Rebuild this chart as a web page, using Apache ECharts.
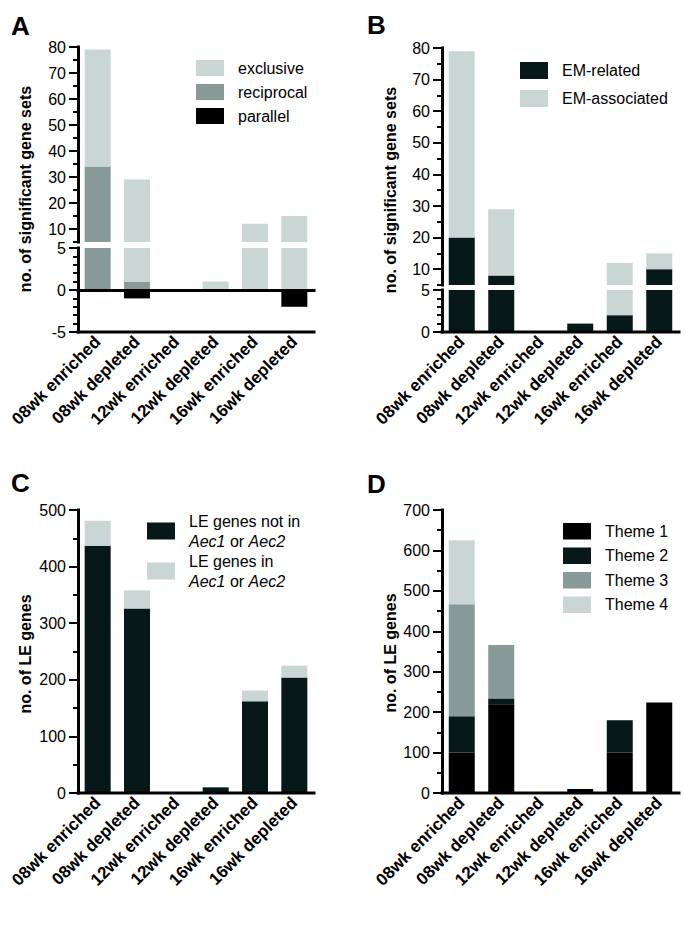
<!DOCTYPE html>
<html>
<head>
<meta charset="utf-8">
<script src="https://cdn.jsdelivr.net/npm/echarts@6/dist/echarts.min.js"></script>
<style>
html,body{margin:0;padding:0;background:#fff;}
#chart{width:685px;height:931px;}
</style>
</head>
<body>
<div id="chart"></div>
<script>
// ---------------- data ----------------
const categories = ['08wk enriched', '08wk depleted', '12wk enriched', '12wk depleted', '16wk enriched', '16wk depleted'];

// Panel A
const exclusive  = [45, 28, 0, 1, 12, 15];
const reciprocal = [34, 1, 0, 0, 0, 0];
const parallel   = [0, -1, 0, 0, 0, -2];

// Panel B
const emRelated    = [20, 8, 0, 1, 2, 10];
const emAssociated = [59, 21, 0, 0, 10, 5];

// Panel C
const leNotInAec = [437, 326, 0, 10, 162, 204];
const leInAec    = [44, 32, 0, 0, 19, 21];

// Panel D
const theme1 = [100, 218, 0, 10, 100, 224];
const theme2 = [90, 16, 0, 0, 80, 0];
const theme3 = [277, 132, 0, 0, 0, 0];
const theme4 = [158, 0, 0, 0, 0, 0];

// tick labels of the upper (broken) segments
const upperMajorTicks = [10, 20, 30, 40, 50, 60, 70, 80];

// ---------------- style ----------------
const FONT = '"Liberation Sans", Arial, Helvetica, sans-serif';
const LIGHT = '#cad6d4';
const MID = '#889a98';
const DARK = '#071818';
const BLACK = '#000000';

const chart = echarts.init(document.getElementById('chart'), null, {renderer: 'svg', width: 685, height: 931});

const rectAUp = {left: 78,  top: 47,  width: 236, height: 195};
const rectALo = {left: 78,  top: 248, width: 236, height: 84};
const rectBUp = {left: 442, top: 48,  width: 237, height: 237};
const rectBLo = {left: 442, top: 290, width: 237, height: 42};
const rectC   = {left: 78,  top: 510, width: 236, height: 283};
const rectD   = {left: 442, top: 510, width: 237, height: 283};

const grids = [
  rectAUp, // 0 A upper bars
  rectALo, // 1 A lower bars (+ zero line)
  rectBUp, // 2 B upper bars
  rectBLo, // 3 B lower bars
  rectC,   // 4 C bars
  rectD,   // 5 D bars
  rectAUp, // 6 A upper minor ticks overlay
  rectBUp, // 7 B upper minor ticks overlay
  rectALo, // 8 A category labels
  rectBLo, // 9 B category labels
  rectC,   // 10 C category labels
  rectD    // 11 D category labels
].map(g => Object.assign({containLabel: false}, g));

const AXIS_LINE = {color: '#000', width: 3, cap: 'square'};
const XLABEL = {show: true, interval: 0, rotate: 45, margin: 7, color: '#000', fontFamily: FONT, fontSize: 17, fontWeight: 'bold'};

function hiddenX(gi) {
  return {type: 'category', gridIndex: gi, data: categories, show: false};
}
function zeroLineX(gi) {
  return {
    type: 'category', gridIndex: gi, data: categories, position: 'bottom', z: 10,
    axisLine: {show: true, onZero: true, lineStyle: AXIS_LINE},
    axisTick: {show: false}, axisLabel: {show: false}, splitLine: {show: false}
  };
}
function labelsX(gi) {
  return {
    type: 'category', gridIndex: gi, data: categories, position: 'bottom',
    axisLine: {show: false},
    axisTick: {show: false}, splitLine: {show: false},
    axisLabel: XLABEL
  };
}
const LABEL = {show: true, margin: 12, color: '#000', fontFamily: FONT, fontSize: 16};
const MAJOR_TICK = {show: true, length: 9, lineStyle: {color: '#000', width: 2}};
const MINOR_TICK_LEN = 5;

function mainY(gi, min, max, interval, split) {
  return {
    type: 'value', gridIndex: gi, position: 'left',
    min: min, max: max, interval: interval,
    axisLine: {show: true, onZero: false, lineStyle: AXIS_LINE},
    axisTick: MAJOR_TICK,
    minorTick: {show: true, splitNumber: split, length: MINOR_TICK_LEN, lineStyle: {color: '#000', width: 2}},
    axisLabel: LABEL,
    splitLine: {show: false}, minorSplitLine: {show: false}
  };
}
function upperY(gi, min, max) {
  return {
    type: 'value', gridIndex: gi, position: 'left',
    min: min, max: max,
    axisLine: {show: true, onZero: false, lineStyle: AXIS_LINE},
    axisTick: Object.assign({customValues: upperMajorTicks}, MAJOR_TICK),
    axisLabel: Object.assign({customValues: upperMajorTicks}, LABEL),
    splitLine: {show: false}
  };
}
function minorOnlyY(gi, min, max, interval) {
  return {
    type: 'value', gridIndex: gi, position: 'left',
    min: min, max: max, interval: interval,
    axisLine: {show: false, onZero: false},
    axisTick: {show: true, length: MINOR_TICK_LEN, lineStyle: {color: '#000', width: 2}},
    axisLabel: {show: true, formatter: function () { return ''; }},
    splitLine: {show: false}
  };
}
function hiddenY(gi, min, max) {
  return {type: 'value', gridIndex: gi, min: min, max: max, show: false, splitLine: {show: false}};
}

const xAxis = [
  hiddenX(0),
  zeroLineX(1),   // A zero line
  hiddenX(2),
  hiddenX(3),
  hiddenX(4),
  hiddenX(5),
  hiddenX(6),
  hiddenX(7),
  labelsX(8),
  labelsX(9),
  labelsX(10),
  labelsX(11)
];

const yAxis = [
  upperY(0, 5, 80),
  mainY(1, -5, 5, 5, 5),
  upperY(2, 5, 80),
  mainY(3, 0, 5, 5, 5),
  mainY(4, 0, 500, 100, 2),
  mainY(5, 0, 700, 100, 2),
  minorOnlyY(6, 5, 80, 5),
  minorOnlyY(7, 5, 80, 5),
  hiddenY(8, 1, 2),
  hiddenY(9, 1, 2),
  hiddenY(10, 1, 2),
  hiddenY(11, 1, 2)
];

function bar(name, data, color, xi, yi, stack) {
  return {
    type: 'bar', name: name, data: data, xAxisIndex: xi, yAxisIndex: yi, stack: stack,
    barWidth: 26, clip: true, silent: true,
    itemStyle: {color: color, borderWidth: 0}
  };
}

const series = [
  bar('reciprocal', reciprocal, MID, 0, 0, 'Au'),
  bar('exclusive', exclusive, LIGHT, 0, 0, 'Au'),
  bar('parallel', parallel, BLACK, 0, 0, 'Au'),
  bar('reciprocal', reciprocal, MID, 1, 1, 'Al'),
  bar('exclusive', exclusive, LIGHT, 1, 1, 'Al'),
  bar('parallel', parallel, BLACK, 1, 1, 'Al'),
  bar('EM-related', emRelated, DARK, 2, 2, 'Bu'),
  bar('EM-associated', emAssociated, LIGHT, 2, 2, 'Bu'),
  bar('EM-related', emRelated, DARK, 3, 3, 'Bl'),
  bar('EM-associated', emAssociated, LIGHT, 3, 3, 'Bl'),
  bar('LE genes not in Aec1 or Aec2', leNotInAec, DARK, 4, 4, 'C'),
  bar('LE genes in Aec1 or Aec2', leInAec, LIGHT, 4, 4, 'C'),
  bar('Theme 1', theme1, BLACK, 5, 5, 'D'),
  bar('Theme 2', theme2, DARK, 5, 5, 'D'),
  bar('Theme 3', theme3, MID, 5, 5, 'D'),
  bar('Theme 4', theme4, LIGHT, 5, 5, 'D')
];

function legend(names, left, top, itemHeight, itemGap, extra) {
  return Object.assign({
    data: names, orient: 'vertical', left: left, top: top, padding: 0,
    itemWidth: 28, itemHeight: itemHeight, itemGap: itemGap, icon: 'rect',
    selectedMode: false,
    textStyle: {color: '#000', fontFamily: FONT, fontSize: 16, lineHeight: itemHeight, padding: [0, 0, 0, 9]}
  }, extra || {});
}

const legends = [
  legend(['exclusive', 'reciprocal', 'parallel'], 196, 60, 16, 8),
  legend(['EM-related', 'EM-associated'], 520, 62, 17, 11),
  legend(['LE genes not in Aec1 or Aec2', 'LE genes in Aec1 or Aec2'], 147, 513, 17, 4, {
    formatter: function (name) {
      const first = name.indexOf('not in') >= 0 ? 'LE genes not in' : 'LE genes in';
      return '{n|' + first + '}\n{i|Aec1}{n| or }{i|Aec2}';
    },
    textStyle: {
      color: '#000', fontFamily: FONT, fontSize: 16, padding: [0, 0, 0, 9],
      rich: {
        n: {fontFamily: FONT, fontSize: 16, lineHeight: 20, color: '#000'},
        i: {fontFamily: FONT, fontSize: 16, lineHeight: 20, fontStyle: 'italic', color: '#000'}
      }
    }
  }),
  legend(['Theme 1', 'Theme 2', 'Theme 3', 'Theme 4'], 563, 523, 16.5, 8)
];

function yTitle(text, x, y) {
  return {
    type: 'text', x: x, y: y, rotation: Math.PI / 2, silent: true,
    style: {text: text, font: 'bold 16px ' + FONT, fill: '#000', align: 'center', verticalAlign: 'middle'}
  };
}
function letter(text, x, y) {
  return {
    type: 'text', x: x, y: y, silent: true,
    style: {text: text, font: 'bold 26px ' + FONT, fill: '#000', align: 'left', verticalAlign: 'top'}
  };
}

const graphic = [
  letter('A', 11, 13),
  letter('B', 367, 12),
  letter('C', 11, 470),
  letter('D', 367, 471),
  yTitle('no. of significant gene sets', 25, 189),
  yTitle('no. of significant gene sets', 390, 190),
  yTitle('no. of LE genes', 25, 654),
  yTitle('no. of LE genes', 390, 653)
];

chart.setOption({
  animation: false,
  backgroundColor: '#ffffff',
  textStyle: {fontFamily: FONT},
  grid: grids,
  xAxis: xAxis,
  yAxis: yAxis,
  legend: legends,
  series: series,
  graphic: graphic
});

// base lines of each plot, positioned through the library's own value scales
function baseLineGraphic(rect, yAxisIndex, value) {
  const y = chart.convertToPixel({yAxisIndex: yAxisIndex}, value);
  return {
    type: 'line', silent: true, z: 100,
    shape: {x1: rect.left, y1: y, x2: rect.left + rect.width, y2: y},
    style: {stroke: '#000', lineWidth: 3, lineCap: 'square'}
  };
}
const baseLines = [
  baseLineGraphic(rectALo, 1, -5),
  baseLineGraphic(rectBLo, 3, 0),
  baseLineGraphic(rectC, 4, 0),
  baseLineGraphic(rectD, 5, 0)
];
chart.setOption({graphic: graphic.concat(baseLines)});
</script>
</body>
</html>
